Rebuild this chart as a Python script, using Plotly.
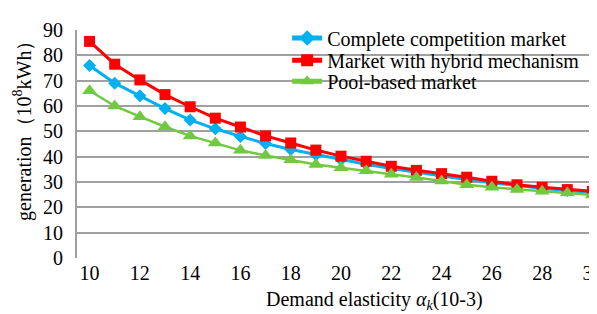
import plotly.graph_objects as go

elasticity = list(range(10, 31))
complete_comp = [76.0, 69.0, 64.0, 59.0, 54.5, 51.0, 48.0, 45.2, 42.8, 40.8, 38.8,
                 37.0, 35.3, 33.8, 32.3, 31.0, 29.7, 28.5, 27.5, 26.6, 25.8]
hybrid = [85.5, 76.5, 70.3, 64.5, 59.7, 55.2, 51.7, 48.2, 45.4, 42.6, 40.2,
          38.2, 36.2, 34.6, 33.3, 31.9, 30.3, 28.9, 27.9, 27.0, 26.3]
pool = [66.0, 60.0, 55.8, 51.8, 48.2, 45.4, 42.5, 40.5, 38.8, 36.9, 35.6,
        34.4, 33.1, 31.8, 30.4, 28.9, 27.9, 27.0, 26.3, 25.7, 24.9]
series_names = ["Complete competition market", "Market with hybrid mechanism", "Pool-based market"]

FONT = "Liberation Serif, Times New Roman, serif"
FS = 20

fig = go.Figure()
fig.add_trace(go.Scatter(x=elasticity, y=complete_comp, name=series_names[0], mode="lines+markers",
                         legend="legend",
                         line=dict(color="#00B0F0", width=3),
                         marker=dict(symbol="diamond", size=10, color="#00B0F0")))
fig.add_trace(go.Scatter(x=elasticity, y=hybrid, name=series_names[1], mode="lines+markers",
                         legend="legend2",
                         line=dict(color="#FF0000", width=3),
                         marker=dict(symbol="square", size=11, color="#FF0000")))
fig.add_trace(go.Scatter(x=elasticity, y=pool, name=series_names[2], mode="lines+markers",
                         legend="legend3",
                         line=dict(color="#70C940", width=2.5),
                         marker=dict(symbol="triangle-up", size=13, color="#70C940")))

def leg(yc):
    return dict(x=0.398, y=yc, xanchor="left", yanchor="middle",
                bgcolor="rgba(0,0,0,0)", font=dict(family=FONT, size=FS),
                itemwidth=30, itemsizing="constant")

fig.update_layout(
    width=597, height=314,
    margin=dict(l=69, r=0, t=22, b=64),
    paper_bgcolor="white", plot_bgcolor="white",
    font=dict(family=FONT, size=FS, color="black"),
    showlegend=True,
    legend=leg(0.965),
    legend2=leg(0.867),
    legend3=leg(0.775),
    xaxis=dict(range=[9.5, 30.5], tickmode="linear", tick0=10, dtick=2,
               showgrid=False, zeroline=False, showline=False,
               ticks="", ticklabelstandoff=1,
               tickfont=dict(family=FONT, size=FS)),
    yaxis=dict(range=[0, 90], tickmode="linear", tick0=0, dtick=10,
               showgrid=True, gridcolor="#A0A0A0", gridwidth=2,
               zeroline=False, showline=True, linecolor="#A0A0A0", linewidth=2,
               ticks="", ticklabelstandoff=8,
               tickfont=dict(family=FONT, size=FS)),
    annotations=[
        dict(text="Demand elasticity <i>α<sub>k</sub></i>(10-3)", xref="paper", yref="paper",
             x=0.564, y=-0.188, xanchor="center", yanchor="middle", showarrow=False,
             font=dict(family=FONT, size=FS)),
        dict(text="generation（10<sup>8</sup>kWh）", xref="paper", yref="paper",
             x=-0.102, y=0.58, xanchor="center", yanchor="middle", showarrow=False,
             textangle=-90, font=dict(family=FONT, size=FS)),
    ],
)

fig.write_html("out.html")
